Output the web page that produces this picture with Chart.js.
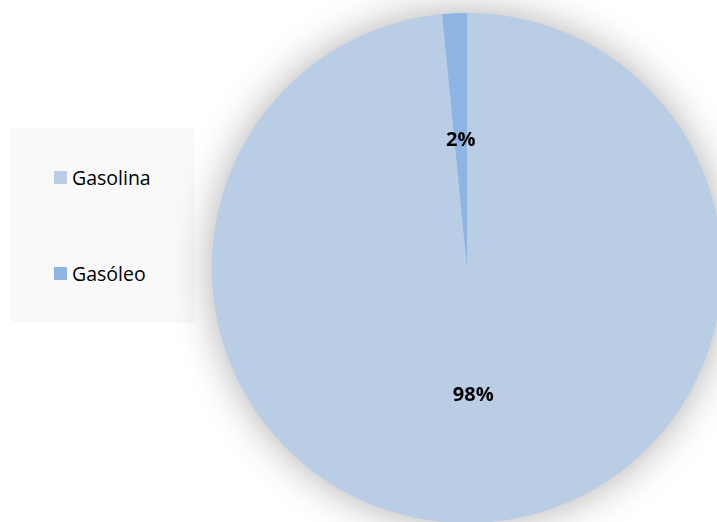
<!DOCTYPE html>
<html>
<head>
<meta charset="utf-8">
<script src="https://cdn.jsdelivr.net/npm/chart.js@4"></script>
<style>
  html, body { margin: 0; padding: 0; background: #fff; overflow: hidden; }
  #wrap { position: relative; width: 717px; height: 522px; }
  #leyenda {
    position: absolute; left: 10px; top: 128px; width: 185px; height: 195px;
    background: #f9f9f9; z-index: 0;
    font-family: "Open Sans", sans-serif; font-size: 19.5px; color: #000;
  }
  .item { position: absolute; left: 44px; display: flex; align-items: center; }
  .caja { width: 13px; height: 13px; margin-right: 5px; }
  canvas { position: absolute; left: 0; top: 0; z-index: 1; }
</style>
</head>
<body>
<div id="wrap">
  <div id="leyenda"></div>
  <canvas id="graficoCombustible" width="717" height="522"></canvas>
</div>
<script>
const categorias = ['Gasolina', 'Gasóleo'];
const porcentajes = [98.45, 1.55];
const colores = ['#b9cde5', '#8eb4e3'];

// leyenda a la izquierda
const leyenda = document.getElementById('leyenda');
const posY = [36, 132];
categorias.forEach((cat, i) => {
  const div = document.createElement('div');
  div.className = 'item';
  div.style.top = posY[i] + 'px';
  div.innerHTML = `<span class="caja" style="background:${colores[i]}"></span><span>${cat}</span>`;
  leyenda.appendChild(div);
});

// sombra alrededor de la tarta
const sombra = {
  id: 'sombra',
  beforeDatasetsDraw(chart) {
    const arc = chart.getDatasetMeta(0).data[0];
    if (!arc) return;
    const ctx = chart.ctx;
    ctx.save();
    ctx.shadowColor = 'rgba(0,0,0,0.32)';
    ctx.shadowBlur = 40;
    ctx.fillStyle = colores[0];
    ctx.beginPath();
    ctx.arc(arc.x, arc.y, arc.outerRadius, 0, Math.PI * 2);
    ctx.fill();
    ctx.restore();
  }
};

// etiquetas de porcentaje
const etiquetas = {
  id: 'etiquetas',
  afterDatasetsDraw(chart) {
    const ctx = chart.ctx;
    const meta = chart.getDatasetMeta(0);
    ctx.save();
    ctx.font = 'bold 20px "Open Sans", sans-serif';
    ctx.fillStyle = '#000';
    ctx.textAlign = 'center';
    ctx.textBaseline = 'middle';
    meta.data.forEach((arc, i) => {
      const p = arc.getProps(['x', 'y', 'startAngle', 'endAngle', 'outerRadius'], true);
      const mid = (p.startAngle + p.endAngle) / 2;
      const r = p.outerRadius * 0.5;
      ctx.fillText(Math.round(porcentajes[i]) + '%', p.x + Math.cos(mid) * r, p.y + Math.sin(mid) * r);
    });
    ctx.restore();
  }
};

const ctx = document.getElementById('graficoCombustible').getContext('2d');
new Chart(ctx, {
  type: 'pie',
  data: {
    labels: categorias,
    datasets: [{
      data: porcentajes,
      backgroundColor: colores,
      borderWidth: 0,
      clip: false
    }]
  },
  options: {
    responsive: false,
    animation: false,
    radius: 255,
    layout: { padding: { left: 217, right: 0, top: 14, bottom: 0 } },
    plugins: {
      legend: { display: false },
      tooltip: { enabled: false }
    }
  },
  plugins: [sombra, etiquetas]
});
</script>
</body>
</html>
